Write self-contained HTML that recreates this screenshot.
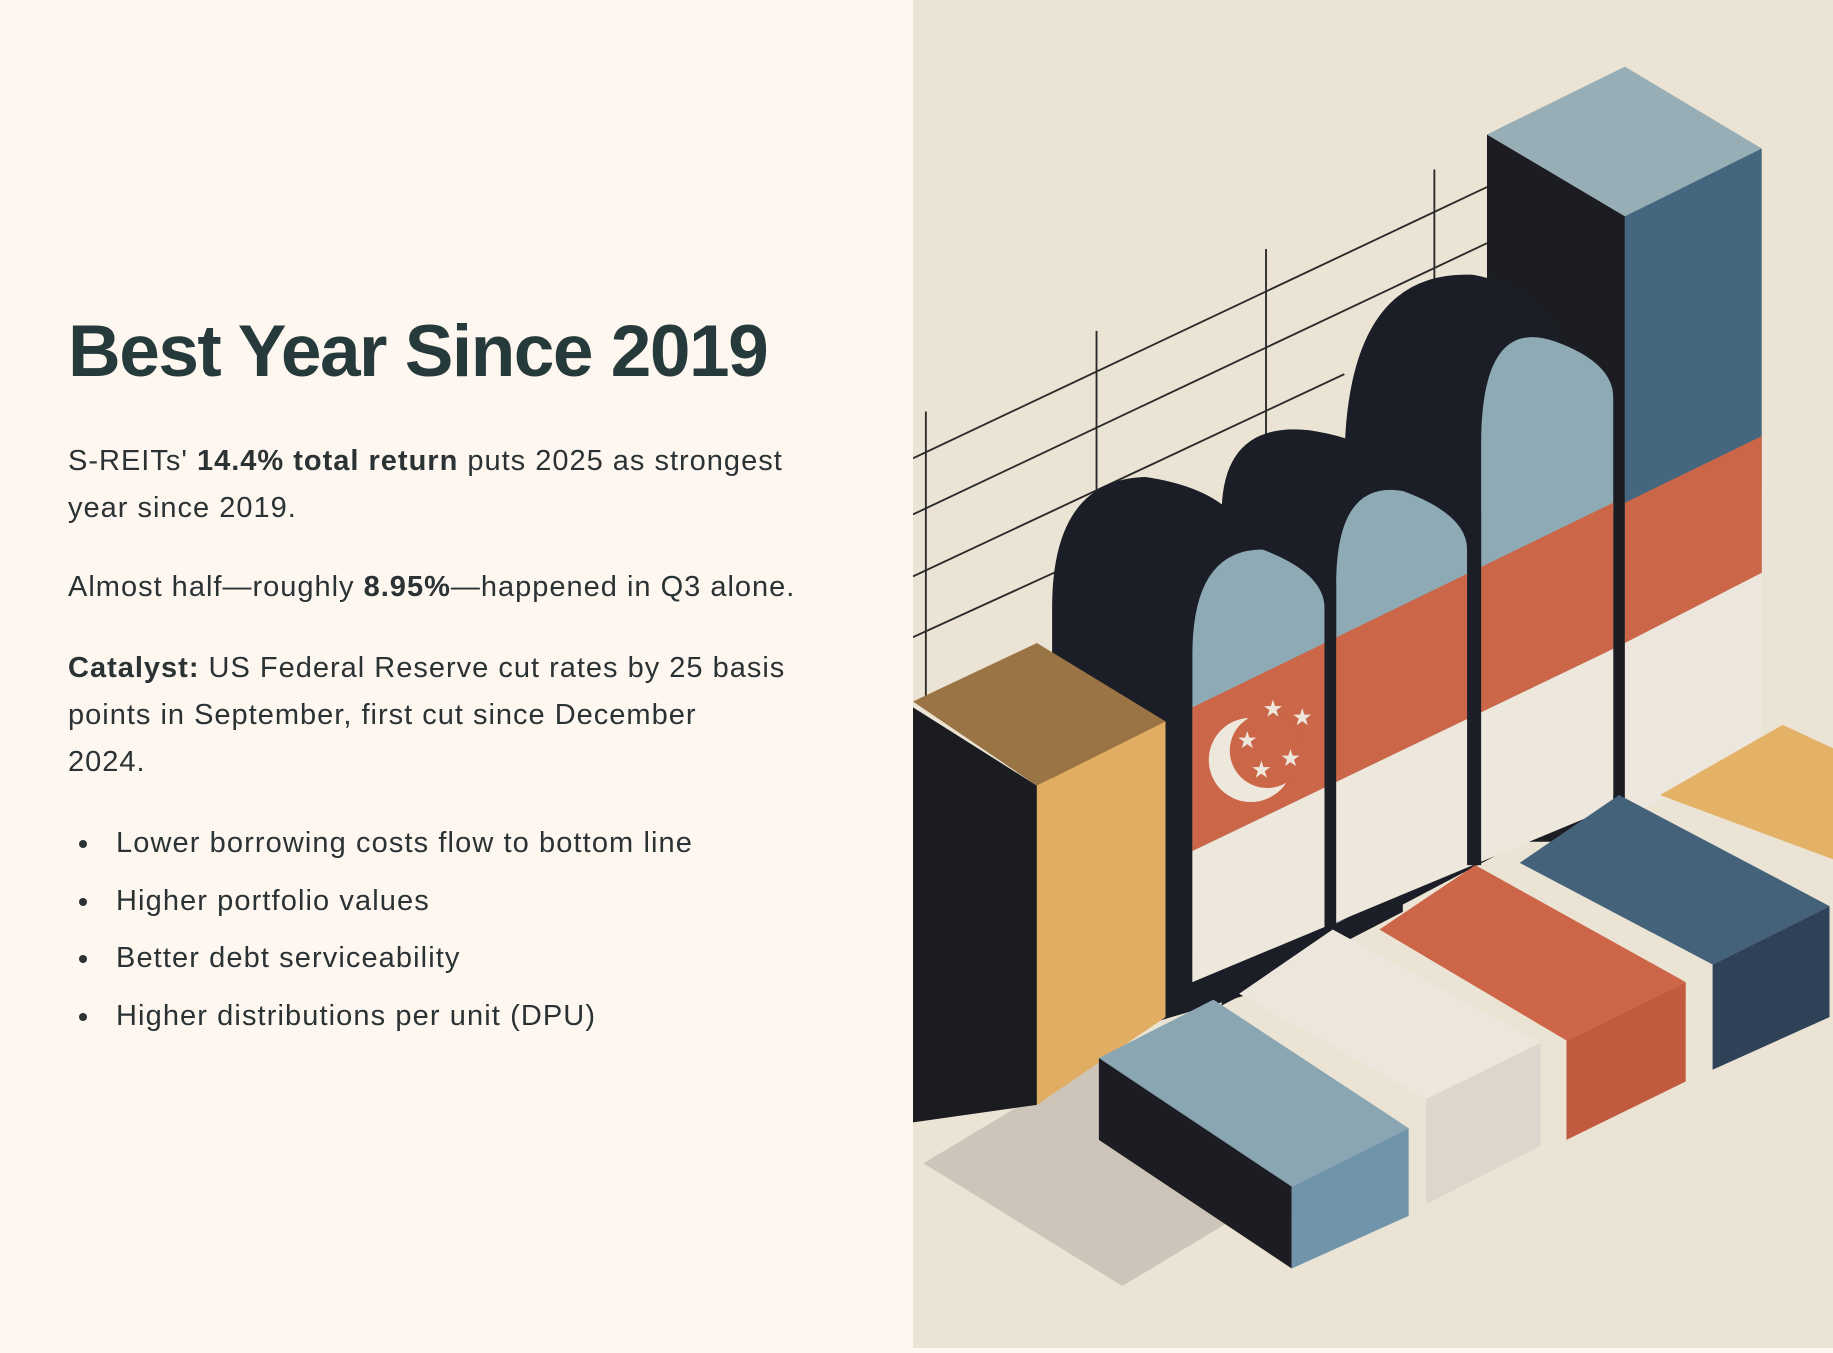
<!DOCTYPE html>
<html><head><meta charset="utf-8">
<style>
html,body{margin:0;padding:0;width:1833px;height:1348px;overflow:hidden;background:#fdf7f0}
#left{position:absolute;left:0;top:0;width:913px;height:1348px;background:#fdf7f0;font-family:"Liberation Sans",sans-serif;color:#2a3234}
#right{position:absolute;left:913px;top:0;width:920px;height:1348px;background:#ebe3d4}
h1{position:absolute;left:68px;top:310px;margin:0;font-size:73px;font-weight:700;color:#263a3b;letter-spacing:-1.5px;white-space:nowrap}
.p{position:absolute;left:68px;margin:0;font-size:29px;line-height:47px;width:740px;letter-spacing:1px}
ul{position:absolute;left:68px;top:818px;margin:0;padding:0;list-style:none;font-size:29px;letter-spacing:1.1px}
li{position:relative;padding-left:48px;height:57.5px;line-height:50px}
li:before{content:"";position:absolute;left:11px;top:22px;width:8px;height:8px;border-radius:50%;background:#2a3234}
</style></head><body>
<div id="left">
<h1>Best Year Since 2019</h1>
<p class="p" style="top:438px">S-REITs' <b>14.4% total return</b> puts 2025 as strongest year since 2019.</p>
<p class="p" style="top:564px">Almost half—roughly <b>8.95%</b>—happened in Q3 alone.</p>
<p class="p" style="top:645px"><b>Catalyst:</b> US Federal Reserve cut rates by 25 basis points in September, first cut since December<br>2024.</p>
<ul>
<li>Lower borrowing costs flow to bottom line</li>
<li>Higher portfolio values</li>
<li>Better debt serviceability</li>
<li>Higher distributions per unit (DPU)</li>
</ul>
</div>
<div id="right">
<svg width="920" height="1348" viewBox="781 0 787 1153" preserveAspectRatio="none">
<rect x="781" y="0" width="787" height="1153" fill="#ebe3d4"/>
<g stroke="#2b2b2b" stroke-width="1.6" fill="none">
<line x1="781" y1="392" x2="1272" y2="160"/><line x1="781" y1="440" x2="1272" y2="208"/>
<line x1="781" y1="493" x2="1150" y2="320"/><line x1="781" y1="545" x2="1000" y2="445"/>
<line x1="792" y1="352" x2="792" y2="600"/><line x1="938" y1="283" x2="938" y2="560"/>
<line x1="1083" y1="213" x2="1083" y2="440"/><line x1="1227" y1="145" x2="1227" y2="300"/>
</g>
<polygon points="790,995 940,905 1110,1010 960,1100" fill="#b9b1a6" opacity="0.6"/>
<polygon points="1272,115 1390,185 1390,720 1272,720" fill="#1c1d22"/>
<polygon points="1272,115 1390,57 1507,127 1390,185" fill="#97aeb6"/>
<polygon points="1390,185 1507,127 1507,490 1390,550" fill="#44667e"/>
<polygon points="1390,430 1507,373 1507,490 1390,550" fill="#cb6649"/>
<polygon points="1390,550 1507,490 1507,640 1390,700" fill="#ece6dc"/>
<path d="M1150,400 Q1150,230 1260,235 Q1340,250 1340,330 L1340,700 L1150,800 Z" fill="#1b1e27"/>
<path d="M1045,440 Q1045,360 1120,368 Q1200,380 1200,430 L1200,780 L1045,860 Z" fill="#1b1e27"/>
<path d="M900,520 Q900,410 980,408 Q1060,420 1070,470 L1070,850 L900,900 Z" fill="#1b1e27"/>
<path d="M1267,380 Q1267,270 1330,292 Q1380,310 1380,340 L1380,680 L1267,730 Z" fill="#8eaab5"/>
<path d="M1143,500 Q1143,410 1200,420 Q1255,440 1255,470 L1255,730 L1143,790 Z" fill="#8eaab5"/>
<path d="M1020,560 Q1020,470 1080,470 Q1133,490 1133,520 L1133,790 L1020,840 Z" fill="#8eaab5"/>
<polygon points="1020,605 1380,430 1380,555 1020,728" fill="#cb6649"/>
<polygon points="1020,728 1380,555 1380,690 1020,840" fill="#ede7dc"/>
<polygon points="1133,500 1143,500 1143,800 1133,800" fill="#1b1e27"/>
<polygon points="1255,440 1267,440 1267,740 1255,740" fill="#1b1e27"/>
<circle cx="1070" cy="650" r="36" fill="#ede7dc"/><circle cx="1084" cy="642" r="32" fill="#cb6649"/>
<g fill="#ede7dc" font-size="20" font-family="DejaVu Sans"><text x="1080" y="613">★</text><text x="1105" y="620">★</text><text x="1058" y="640">★</text><text x="1095" y="655">★</text><text x="1070" y="665">★</text></g>
<polygon points="781,600 887,550 997,617 887,672" fill="#9a7444"/>
<polygon points="781,605 887,672 887,945 781,960" fill="#1b1c20"/>
<polygon points="887,672 997,617 997,870 887,945" fill="#e0ad62"/>
<polygon points="940,905 1038,855 1205,965 1105,1015" fill="#8aa6b3"/>
<polygon points="940,905 1105,1015 1105,1085 940,975" fill="#1c1d22"/>
<polygon points="1105,1015 1205,965 1205,1040 1105,1085" fill="#7095aa"/>
<polygon points="1060,850 1140,795 1318,892 1220,940" fill="#ece6dc"/>
<polygon points="1220,940 1318,892 1318,980 1220,1030" fill="#dcd6cc"/>
<polygon points="1180,795 1262,740 1442,840 1340,890" fill="#cd6648"/>
<polygon points="1340,890 1442,840 1442,925 1340,975" fill="#c15a3f"/>
<polygon points="1300,738 1385,680 1565,775 1465,825" fill="#44637b"/>
<polygon points="1465,825 1565,775 1565,870 1465,915" fill="#2f4257"/>
<polygon points="1420,680 1525,620 1568,640 1568,735" fill="#e4b266"/>
</svg>
</div>
</body></html>
